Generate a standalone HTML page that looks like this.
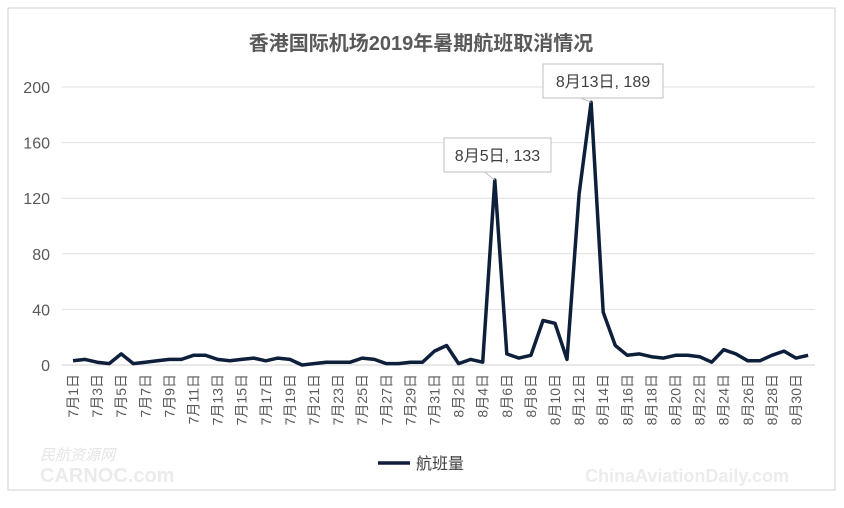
<!DOCTYPE html>
<html><head><meta charset="utf-8"><style>
body{margin:0;background:#fff;width:844px;height:503px;overflow:hidden;font-family:"Liberation Sans","Noto Sans CJK SC",sans-serif}
</style></head><body>
<svg id="chart" width="844" height="503" style="font-family:'Liberation Sans','Noto Sans CJK SC',sans-serif">
<rect x="8" y="8" width="827" height="482" fill="#fff" stroke="#d0d0d0"/>
<text x="421" y="50" text-anchor="middle" font-size="20" font-weight="bold" fill="#595959">香港国际机场2019年暑期航班取消情况</text>
<g id="grid"></g><g id="xl"></g>
<path id="line" fill="none" stroke="#0d1f3a" stroke-width="3.5" stroke-linejoin="round"/>
<g id="ann"></g>
<line x1="378" y1="463" x2="410" y2="463" stroke="#0d1f3a" stroke-width="3.5"/>
<text x="416" y="469" font-size="16" fill="#404040">航班量</text>
<text x="40" y="460" font-size="15" fill="#e4e4e4" font-style="italic">民航资源网</text>
<text x="40" y="482" font-size="20" font-weight="bold" fill="#ebebeb">CARNOC.com</text>
<text x="585" y="482" font-size="18" font-weight="bold" fill="#ececec">ChinaAviationDaily.com</text>
</svg>
<script>
const categories=[];
for(let d=1;d<=31;d++)categories.push('7月'+d+'日');
for(let d=1;d<=31;d++)categories.push('8月'+d+'日');
const values=[3,4,2,1,8,1,2,3,4,4,7,7,4,3,4,5,3,5,4,0,1,2,2,2,5,4,1,1,2,2,10,14,1,4,2,133,8,5,7,32,30,4,123,189,38,14,7,8,6,5,7,7,6,2,11,8,3,3,7,10,5,7];
const yTicks=[0,40,80,120,160,200];
const annotationIndex=[35,43];
const calloutBoxes=[{x:444,y:138,w:107},{x:543,y:64,w:120}];
const ns='http://www.w3.org/2000/svg';
const X0=73,DX=12.05,Y0=365,YS=(365-87)/200;
const xs=i=>X0+i*DX, ys=v=>Y0-v*YS;
const grid=document.getElementById('grid');
yTicks.forEach(t=>{
 const l=document.createElementNS(ns,'line');
 l.setAttribute('x1',62);l.setAttribute('x2',815);l.setAttribute('y1',ys(t));l.setAttribute('y2',ys(t));
 l.setAttribute('stroke',t===0?'#d0d0d0':'#e0e0e0');
 
 
 grid.appendChild(l);
 const tx=document.createElementNS(ns,'text');
 tx.setAttribute('x',50);tx.setAttribute('y',ys(t)+6);tx.setAttribute('text-anchor','end');tx.setAttribute('font-size','16');tx.setAttribute('fill','#595959');
 tx.textContent=t;
 
 
 grid.appendChild(tx);
});
const xl=document.getElementById('xl');
categories.forEach((c,i)=>{
 if(i%2)return;
 const tx=document.createElementNS(ns,'text');
 const x=xs(i)+5,y=374;
 tx.setAttribute('transform','translate('+x+','+y+') rotate(-90)');
 tx.setAttribute('text-anchor','end');tx.setAttribute('font-size','14');tx.setAttribute('fill','#595959');
 tx.textContent=c;
 
 
 xl.appendChild(tx);
});
document.getElementById('line').setAttribute('d',values.map((v,i)=>(i?'L':'M')+xs(i).toFixed(1)+','+ys(v).toFixed(1)).join(''));
const ann=document.getElementById('ann');
annotationIndex.forEach((idx,k)=>{
 const px=xs(idx),py=ys(values[idx]);
 const b=calloutBoxes[k],h=34;
 const l=document.createElementNS(ns,'line');
 l.setAttribute('x1',px-10);l.setAttribute('y1',b.y+h);l.setAttribute('x2',px);l.setAttribute('y2',py);l.setAttribute('stroke','#bfbfbf');
 
 
 ann.appendChild(l);
 const r=document.createElementNS(ns,'rect');
 r.setAttribute('x',b.x);r.setAttribute('y',b.y);r.setAttribute('width',b.w);r.setAttribute('height',h);
 r.setAttribute('fill','#fff');r.setAttribute('stroke','#bfbfbf');
 
 
 ann.appendChild(r);
 const t=document.createElementNS(ns,'text');
 t.setAttribute('x',b.x+b.w/2);t.setAttribute('y',b.y+23);t.setAttribute('text-anchor','middle');t.setAttribute('font-size','16');t.setAttribute('fill','#404040');
 t.textContent=categories[idx]+', '+values[idx];
 
 
 ann.appendChild(t);
});
</script>
</body></html>
